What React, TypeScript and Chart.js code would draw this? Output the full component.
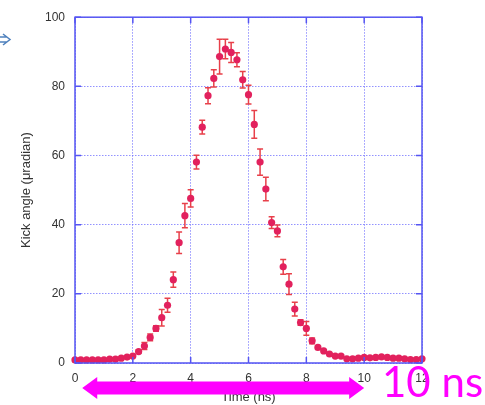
import React, { useEffect, useRef } from 'react';
import { Chart, registerables } from 'chart.js';

Chart.register(...registerables);

const times = [
  0, 0.2, 0.4, 0.6, 0.8, 1.0, 1.2, 1.4, 1.6, 1.8,
  2.0, 2.2, 2.4, 2.6, 2.8, 3.0, 3.2, 3.4, 3.6, 3.8,
  4.0, 4.2, 4.4, 4.6, 4.8, 5.0, 5.2, 5.4, 5.6, 5.8,
  6.0, 6.2, 6.4, 6.6, 6.8, 7.0, 7.2, 7.4, 7.6, 7.8,
  8.0, 8.2, 8.4, 8.6, 8.8, 9.0, 9.2, 9.4, 9.6, 9.8,
  10.0, 10.2, 10.4, 10.6, 10.8, 11.0, 11.2, 11.4, 11.6, 11.8, 12.0,
];

const kickAngle = [
  0.9, 0.9, 0.9, 0.9, 0.9, 0.9, 1.1, 1.1, 1.4, 1.7,
  2.0, 3.3, 4.9, 7.4, 10.0, 13.1, 16.7, 24.1, 34.8, 42.6,
  47.6, 58.1, 68.2, 77.3, 82.3, 88.6, 90.8, 89.8, 87.7, 81.9,
  77.6, 69.0, 58.1, 50.3, 40.6, 38.2, 27.8, 22.8, 15.6, 11.7,
  10.0, 6.4, 4.5, 3.5, 2.6, 2.0, 2.0, 1.2, 1.2, 1.4,
  1.6, 1.5, 1.6, 1.8, 1.6, 1.4, 1.4, 1.2, 1.0, 1.0, 1.2,
];

const kickError = [
  0, 0, 0, 0, 0, 0, 0, 0, 0, 0,
  0, 0.5, 1.0, 1.0, 0.8, 2.4, 2.0, 2.2, 3.1, 3.5,
  2.5, 2.0, 2.0, 2.3, 2.5, 5.0, 2.8, 2.9, 2.0, 2.4,
  2.7, 4.0, 3.8, 3.4, 1.7, 1.7, 2.1, 3.0, 2.0, 0.8,
  2.0, 0.8, 0, 0, 0, 0, 0, 0, 0, 0,
  0, 0, 0, 0, 0, 0, 0, 0, 0, 0, 0,
];

const xTickValues = [0, 2, 4, 6, 8, 10, 12];
const yTickValues = [0, 20, 40, 60, 80, 100];

const xTitle = 'Time (ns)';
const yTitle = 'Kick angle (\u03bcradian)';
const spanLabel = '10 ns';
const spanStart = 0.25;
const spanEnd = 10;

const POINT_COLOR = '#E2215D';
const ERR_COLOR = '#E8404A';
const GRID_COLOR = 'rgba(110,110,255,0.75)';
const BORDER_COLOR = '#5555F2';
const MAGENTA = '#FF00FF';

const errorBarPlugin = {
  id: 'errorBars',
  beforeDatasetsDraw(chart: any) {
    const { ctx, scales } = chart;
    const xs = scales.x;
    const ys = scales.y;
    ctx.save();
    ctx.strokeStyle = ERR_COLOR;
    ctx.lineWidth = 1.5;
    for (let i = 0; i < times.length; i++) {
      const e = kickError[i];
      if (!e) continue;
      const px = xs.getPixelForValue(times[i]);
      const y1 = ys.getPixelForValue(kickAngle[i] + e);
      const y2 = ys.getPixelForValue(kickAngle[i] - e);
      ctx.beginPath();
      ctx.moveTo(px, y1);
      ctx.lineTo(px, y2);
      ctx.moveTo(px - 3, y1);
      ctx.lineTo(px + 3, y1);
      ctx.moveTo(px - 3, y2);
      ctx.lineTo(px + 3, y2);
      ctx.stroke();
    }
    ctx.restore();
  },
};

const framePlugin = {
  id: 'frameAndNotes',
  afterDraw(chart: any) {
    const { ctx, chartArea, scales } = chart;
    const { left, right, top, bottom } = chartArea;
    const xs = scales.x;
    const ys = scales.y;
    ctx.save();
    // frame
    ctx.strokeStyle = BORDER_COLOR;
    ctx.lineWidth = 1.5;
    ctx.strokeRect(left, top, right - left, bottom - top);
    // inward ticks
    ctx.beginPath();
    xTickValues.forEach((v) => {
      const px = xs.getPixelForValue(v);
      ctx.moveTo(px, bottom);
      ctx.lineTo(px, bottom - 6);
      ctx.moveTo(px, top);
      ctx.lineTo(px, top + 6);
    });
    yTickValues.forEach((v) => {
      const py = ys.getPixelForValue(v);
      ctx.moveTo(left, py);
      ctx.lineTo(left + 6, py);
      ctx.moveTo(right, py);
      ctx.lineTo(right - 6, py);
    });
    ctx.stroke();

    // magenta double arrow
    const ax1 = xs.getPixelForValue(spanStart);
    const ax2 = xs.getPixelForValue(spanEnd);
    const ay = 388;
    const headLen = 15;
    const shaft = 6.5;
    const head = 11;
    ctx.fillStyle = MAGENTA;
    ctx.beginPath();
    ctx.moveTo(ax1, ay);
    ctx.lineTo(ax1 + headLen, ay - head);
    ctx.lineTo(ax1 + headLen, ay - shaft);
    ctx.lineTo(ax2 - headLen, ay - shaft);
    ctx.lineTo(ax2 - headLen, ay - head);
    ctx.lineTo(ax2, ay);
    ctx.lineTo(ax2 - headLen, ay + head);
    ctx.lineTo(ax2 - headLen, ay + shaft);
    ctx.lineTo(ax1 + headLen, ay + shaft);
    ctx.lineTo(ax1 + headLen, ay + head);
    ctx.closePath();
    ctx.fill();

    // 10 ns label
    ctx.font = '42px Lato, "Open Sans", sans-serif';
    ctx.textBaseline = 'alphabetic';
    ctx.textAlign = 'left';
    ctx.fillText(spanLabel, 382, 397);

    // blue arrow at top-left
    ctx.strokeStyle = '#4F81BD';
    ctx.lineWidth = 1.5;
    ctx.beginPath();
    ctx.moveTo(0, 37);
    ctx.lineTo(7, 37);
    ctx.moveTo(0, 42);
    ctx.lineTo(7, 42);
    ctx.moveTo(3, 34);
    ctx.lineTo(10, 39.5);
    ctx.lineTo(3, 45);
    ctx.stroke();
    ctx.restore();
  },
};

export default function App() {
  const canvasRef = useRef<HTMLCanvasElement | null>(null);

  useEffect(() => {
    const canvas = canvasRef.current;
    if (!canvas) return;
    const chart = new Chart(canvas, {
      type: 'scatter',
      data: {
        datasets: [
          {
            label: 'Kick angle',
            data: times.map((t, i) => ({ x: t, y: kickAngle[i] })),
            pointRadius: 3.6,
            pointBackgroundColor: POINT_COLOR,
            pointBorderColor: POINT_COLOR,
            pointBorderWidth: 0,
            showLine: false,
            clip: false,
          } as any,
        ],
      },
      options: {
        animation: false,
        responsive: false,
        maintainAspectRatio: false,
        layout: { padding: { left: 0, right: 63, top: 16, bottom: 0 } },
        plugins: {
          legend: { display: false },
          tooltip: { enabled: false },
        },
        scales: {
          x: {
            type: 'linear',
            min: 0,
            max: 12,
            afterFit: (s: any) => {
              s.height = 42;
            },
            afterBuildTicks: (s: any) => {
              s.ticks = xTickValues.map((v) => ({ value: v }));
            },
            ticks: {
              color: '#333',
              padding: 8,
              font: { family: '"Liberation Sans", Arial, sans-serif', size: 12 },
            },
            grid: { color: GRID_COLOR, lineWidth: 1, drawTicks: false },
            border: { display: false, dash: [1.5, 1.5] },
            title: {
              display: true,
              text: xTitle,
              color: '#333',
              padding: { top: 0, bottom: 0 },
              font: { family: '"Liberation Sans", Arial, sans-serif', size: 13 },
            },
          },
          y: {
            type: 'linear',
            min: 0,
            max: 100,
            afterFit: (s: any) => {
              s.width = 75;
            },
            afterBuildTicks: (s: any) => {
              s.ticks = yTickValues.map((v) => ({ value: v }));
            },
            ticks: {
              color: '#333',
              padding: 10,
              font: { family: '"Liberation Sans", Arial, sans-serif', size: 12 },
            },
            grid: { color: GRID_COLOR, lineWidth: 1, drawTicks: false },
            border: { display: false, dash: [1.5, 1.5] },
            title: {
              display: true,
              text: yTitle,
              color: '#333',
              padding: { top: 19, bottom: 0 },
              font: { family: '"Liberation Sans", Arial, sans-serif', size: 13 },
            },
          },
        },
      },
      plugins: [errorBarPlugin, framePlugin],
    });
    return () => chart.destroy();
  }, []);

  return (
    <div style={{ position: 'fixed', left: 0, top: 0, width: 485, height: 405, background: '#fff' }}>
      <canvas ref={canvasRef} width={485} height={405} style={{ width: 485, height: 405, display: 'block' }} />
    </div>
  );
}
